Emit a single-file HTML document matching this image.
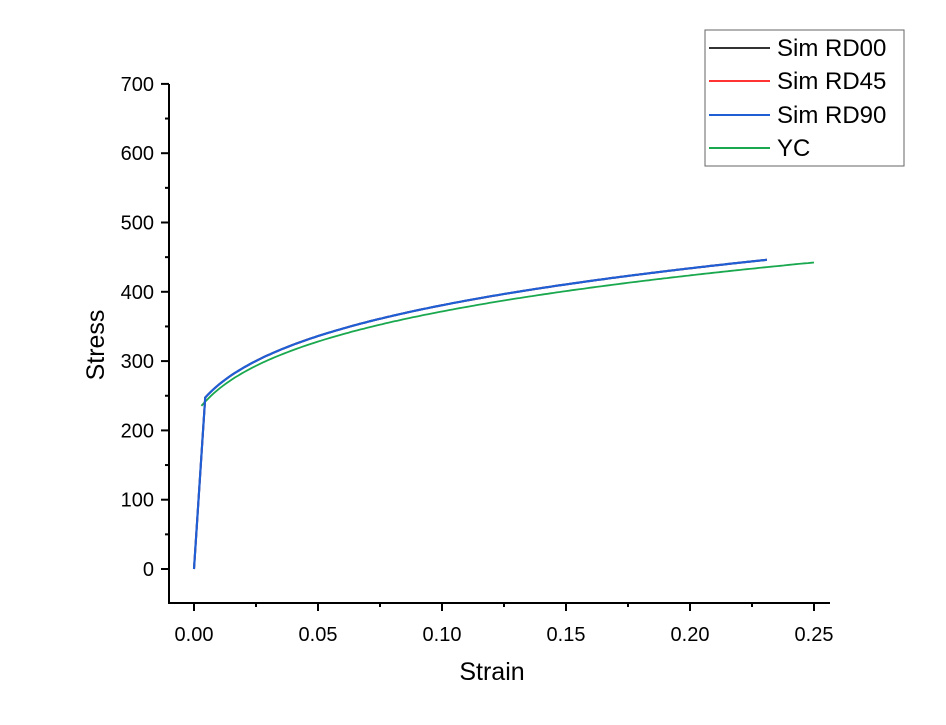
<!DOCTYPE html>
<html><head><meta charset="utf-8"><style>
html,body{margin:0;padding:0;background:#fff;}
svg{display:block;font-family:"Liberation Sans",Arial,sans-serif;}
</style></head><body>
<svg id="s" width="946" height="725" viewBox="0 0 946 725" xmlns="http://www.w3.org/2000/svg">
<g stroke="#000" stroke-width="2" fill="none">
<line x1="169" y1="84" x2="169" y2="604"/>
<line x1="168" y1="603" x2="830" y2="603"/>
</g>
<g id="ticks" stroke="#000" stroke-width="2"></g>
<g id="labs" font-size="20" fill="#000"></g>
<text x="492" y="680" font-size="25" text-anchor="middle">Strain</text>
<text transform="translate(104,345) rotate(-90)" font-size="25" text-anchor="middle">Stress</text>
<polyline id="yc" fill="none" stroke="#1aa84f" stroke-width="1.8"/>
<polyline id="s0" fill="none" stroke="#333" stroke-width="2"/>
<polyline id="s45" fill="none" stroke="#f33" stroke-width="2"/>
<polyline id="s90" fill="none" stroke="#1f5fd6" stroke-width="2.2"/>
<rect x="705" y="30" width="199" height="136" fill="#fff" stroke="#666" stroke-width="1"/>
<g stroke-width="2">
<line x1="709" y1="48" x2="770" y2="48" stroke="#333"/>
<line x1="709" y1="81" x2="770" y2="81" stroke="#f33"/>
<line x1="709" y1="115" x2="770" y2="115" stroke="#1f5fd6"/>
<line x1="709" y1="148" x2="770" y2="148" stroke="#1aa84f"/>
</g>
<g font-size="24" fill="#000">
<text x="777" y="56">Sim RD00</text>
<text x="777" y="89">Sim RD45</text>
<text x="777" y="123">Sim RD90</text>
<text x="777" y="156">YC</text>
</g>
</svg>
<script>
var X=function(e){return 194+e*2480;},Y=function(s){return 569-s*0.693;};
var t=document.getElementById('ticks'),l=document.getElementById('labs'),ns="http://www.w3.org/2000/svg";
function mk(p,tag,a){var e=document.createElementNS(ns,tag);for(var k in a)e.setAttribute(k,a[k]);p.appendChild(e);return e;}
for(var i=0;i<=5;i++){var x=X(i*0.05);mk(t,'line',{x1:x,y1:603,x2:x,y2:611});var tx=mk(l,'text',{x:x,y:641,'text-anchor':'middle'});tx.textContent=(i*0.05).toFixed(2);}
for(var i=0;i<5;i++){var x=X(i*0.05+0.025);mk(t,'line',{x1:x,y1:603,x2:x,y2:607});}
for(var v=0;v<=700;v+=100){var y=Y(v);mk(t,'line',{x1:161,y1:y,x2:169,y2:y});var tx=mk(l,'text',{x:154,y:y+7,'text-anchor':'end'});tx.textContent=v;}
for(var v=50;v<700;v+=100){var y=Y(v);mk(t,'line',{x1:165,y1:y,x2:169,y2:y});}
function sw(K,e0,n,a,b){var p=[],N=200;for(var i=0;i<=N;i++){var e=a+(b-a)*i/N;p.push(X(e).toFixed(1)+','+Y(K*Math.pow(e0+e,n)).toFixed(1));}return p;}
var sim=[X(0)+','+Y(0)].concat(sw(594,0.008,0.2,0.0045,0.231)).join(' ');
['s0','s45','s90'].forEach(function(id){document.getElementById(id).setAttribute('points',sim);});
document.getElementById('yc').setAttribute('points',sw(580,0.008,0.2,0.003,0.25).join(' '));
</script>
</body></html>
